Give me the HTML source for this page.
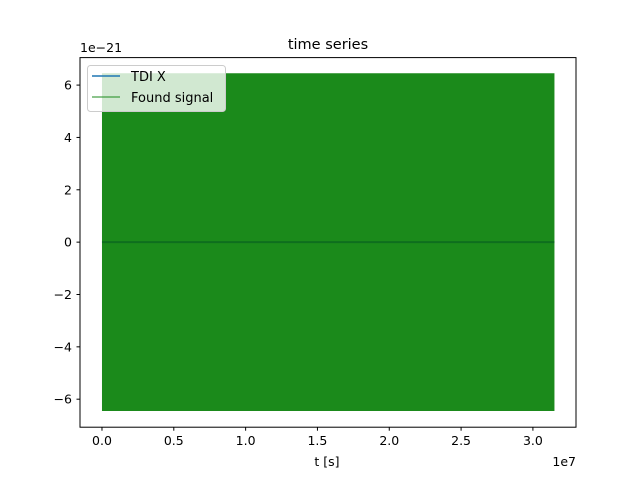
<!DOCTYPE html>
<html><head><meta charset="utf-8"><style>
body{margin:0;background:#fff;}
svg text{font-family:"DejaVu Sans","Liberation Sans",sans-serif;fill:#000;}
</style></head><body>
<svg id="chart" width="640" height="480" xmlns="http://www.w3.org/2000/svg">
<rect width="640" height="480" fill="#fff"/>
<g id="plot"></g>
</svg>
<script>
const xTicks=[0,0.5,1.0,1.5,2.0,2.5,3.0];
const xTickLabels=["0.0","0.5","1.0","1.5","2.0","2.5","3.0"];
const yTicks=[-6,-4,-2,0,2,4,6];
const yTickLabels=["−6","−4","−2","0","2","4","6"];
const signalT=[0,3.15];
const signalUpper=[6.45,6.45];
const signalLower=[-6.45,-6.45];
const tdiT=[0,3.15];
const tdiValues=[0,0];

const L=80,R=576,T=57.6,B=427.2;
const xMin=-0.153,xMax=3.3,yMin=-7.07,yMax=7.05;
const sx=v=>L+(v-xMin)/(xMax-xMin)*(R-L);
const sy=v=>B-(v-yMin)/(yMax-yMin)*(B-T);
const NS="http://www.w3.org/2000/svg";
const g=document.getElementById('plot');
function mk(tag,attrs,parent){const e=document.createElementNS(NS,tag);for(const k in attrs)e.setAttribute(k,attrs[k]);(parent||g).appendChild(e);return e;}

let pts=signalT.map((t,i)=>sx(t)+","+sy(signalUpper[i]));
for(let i=signalT.length-1;i>=0;i--)pts.push(sx(signalT[i])+","+sy(signalLower[i]));
const band=mk('polygon',{points:pts.join(' '),fill:'#1b8a1b'});


const tl=mk('polyline',{points:tdiT.map((t,i)=>sx(t)+","+sy(tdiValues[i])).join(' '),fill:'none',stroke:'#0e6e1e',"stroke-width":2});



const fr=mk('rect',{x:L,y:T,width:R-L,height:B-T,fill:'none',stroke:'#000',"stroke-width":1});



xTicks.forEach((v,i)=>{const x=sx(v);
 mk('line',{x1:x,x2:x,y1:B,y2:B+3.5,stroke:'#000'});
 const t=mk('text',{x:x,y:B+18,"text-anchor":"middle","font-size":"12.5"});t.textContent=xTickLabels[i];
 
 
});
yTicks.forEach((v,i)=>{const y=sy(v);
 mk('line',{x1:L,x2:L-3.5,y1:y,y2:y,stroke:'#000'});
 const t=mk('text',{x:L-8,y:y+4.5,"text-anchor":"end","font-size":"12.5"});t.textContent=yTickLabels[i];
 
 
});
const texts=[["1e−21",80,52,"start",12.5,"y-offset-label"],["1e7",576,466,"end",12.5,"x-offset-label"],["t [s]",327,466,"middle",12.5,"x-axis-title"],["time series",328,49,"middle",14.5,"chart-title"]];
texts.forEach(a=>{const t=mk('text',{x:a[1],y:a[2],"text-anchor":a[3],"font-size":a[4]});t.textContent=a[0];
 
 });

const lg=mk('g',{});


mk('rect',{x:87.5,y:65.5,width:138,height:46,rx:3,fill:'rgba(255,255,255,0.8)',stroke:'#ccc'},lg);
mk('line',{x1:92,x2:120,y1:76,y2:76,stroke:'#1f77b4',"stroke-width":1.5},lg);
let t1=mk('text',{x:131,y:81,"font-size":"13"},lg);t1.textContent="TDI X";


mk('line',{x1:92,x2:120,y1:97,y2:97,stroke:'#1b8a1b',"stroke-width":1},lg);
let t2=mk('text',{x:131,y:102,"font-size":"13"},lg);t2.textContent="Found signal";


</script>
</body></html>
